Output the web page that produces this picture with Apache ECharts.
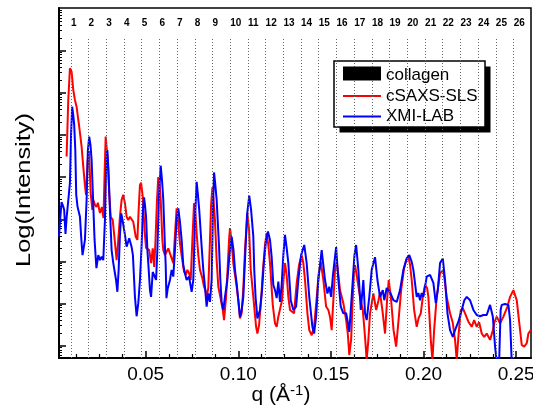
<!DOCTYPE html>
<html>
<head>
<meta charset="utf-8">
<script src="https://cdn.jsdelivr.net/npm/echarts@6/dist/echarts.min.js"></script>
<style>
html,body{margin:0;padding:0;background:#fff;}
#c{width:533px;height:408px;}
</style>
</head>
<body>
<div id="c"></div>
<script>
// ---------- data ----------
const collagenOrders = [1,2,3,4,5,6,7,8,9,10,11,12,13,14,15,16,17,18,19,20,21,22,23,24,25,26];
const collagenQ = [0.0096,0.0191,0.0287,0.0382,0.0478,0.0574,0.0669,0.0765,0.0860,0.0956,0.1052,0.1147,0.1243,0.1338,0.1434,0.1530,0.1625,0.1721,0.1816,0.1912,0.2008,0.2103,0.2199,0.2294,0.2390,0.2486];

const slsQ = [0.0073,0.0082,0.0091,0.0100,0.0109,0.0118,0.0127,0.0134,0.0141,0.0154,
0.0163,0.0172,0.0178,0.0187,0.0194,0.0203,0.0212,0.0217,0.0226,0.0234,
0.0242,0.0253,0.0264,0.0272,0.0278,0.0284,0.0295,0.0303,0.0311,0.0322,
0.0329,0.0338,0.0343,0.0350,0.0361,0.0370,0.0379,0.0388,0.0397,0.0406,
0.0415,0.0424,0.0433,0.0446,0.0455,0.0462,0.0469,0.0475,0.0484,0.0495,
0.0502,0.0510,0.0519,0.0529,0.0538,0.0546,0.0553,0.0561,0.0568,0.0575,
0.0581,0.0590,0.0595,0.0604,0.0613,0.0622,0.0631,0.0640,0.0649,0.0658,
0.0667,0.0674,0.0680,0.0685,0.0696,0.0707,0.0716,0.0725,0.0734,0.0743,
0.0752,0.0761,0.0769,0.0775,0.0784,0.0793,0.0806,0.0815,0.0822,0.0829,
0.0838,0.0847,0.0853,0.0860,0.0866,0.0874,0.0883,0.0892,0.0901,0.0916,
0.0923,0.0934,0.0942,0.0950,0.0955,0.0963,0.0973,0.0982,0.0991,0.1000,
0.1009,0.1018,0.1027,0.1036,0.1049,0.1058,0.1067,0.1081,0.1096,0.1103,
0.1112,0.1123,0.1133,0.1144,0.1153,0.1162,0.1171,0.1186,0.1198,0.1207,
0.1216,0.1225,0.1236,0.1244,0.1252,0.1261,0.1270,0.1279,0.1288,0.1301,
0.1315,0.1328,0.1342,0.1351,0.1360,0.1373,0.1383,0.1396,0.1409,0.1422,
0.1433,0.1445,0.1459,0.1474,0.1486,0.1495,0.1504,0.1513,0.1522,0.1531,
0.1540,0.1549,0.1567,0.1582,0.1591,0.1599,0.1609,0.1617,0.1625,0.1630,
0.1643,0.1657,0.1672,0.1684,0.1693,0.1702,0.1711,0.1729,0.1744,0.1757,
0.1765,0.1779,0.1792,0.1803,0.1812,0.1825,0.1838,0.1852,0.1865,0.1879,
0.1895,0.1906,0.1918,0.1927,0.1936,0.1949,0.1963,0.1973,0.1985,0.1996,
0.2008,0.2019,0.2026,0.2039,0.2048,0.2057,0.2071,0.2089,0.2107,0.2125,
0.2143,0.2157,0.2170,0.2179,0.2188,0.2201,0.2212,0.2224,0.2242,0.2251,
0.2260,0.2273,0.2287,0.2300,0.2314,0.2327,0.2341,0.2359,0.2374,0.2383,
0.2395,0.2413,0.2431,0.2453,0.2467,0.2485,0.2503,0.2517,0.2530,0.2543,
0.2557,0.2566,0.2579];
const slsLogI = [4.49,5.83,6.58,6.50,6.07,5.83,5.67,5.43,5.20,4.72,
4.25,3.81,3.58,4.41,4.62,3.62,3.22,3.46,3.34,3.29,
3.39,3.15,3.29,3.03,4.05,4.96,4.41,3.62,3.06,2.98,
2.67,2.27,2.03,2.39,3.06,3.46,3.58,3.38,3.06,2.98,
3.06,3.10,2.94,2.59,2.51,3.22,3.81,3.87,3.54,2.67,
2.32,2.35,2.27,1.96,2.31,1.87,2.51,3.46,4.00,3.81,
3.46,2.51,2.27,2.15,2.23,2.31,2.19,2.23,1.96,2.63,
3.26,2.98,2.67,2.43,2.08,1.76,1.68,1.80,1.72,1.56,
2.51,3.38,3.10,2.67,2.15,1.80,1.60,1.40,1.32,1.16,
1.37,2.51,3.34,3.76,3.46,2.98,2.03,1.40,1.20,0.85,
0.61,1.16,1.80,2.51,2.79,2.51,1.96,1.68,1.40,1.08,
0.65,0.77,1.36,2.27,3.14,2.75,1.80,1.16,0.45,0.29,
0.49,1.08,1.80,2.39,2.67,2.39,1.96,0.97,0.53,0.45,
0.69,0.69,1.08,1.56,1.96,1.68,1.16,0.85,0.89,0.77,
1.48,1.92,2.15,1.96,1.56,0.77,0.37,0.25,0.45,1.08,
1.68,1.99,1.56,0.93,0.85,0.69,0.37,1.08,1.80,1.99,
1.68,1.32,1.01,0.61,0.29,-0.22,0.14,1.08,1.80,1.92,
1.56,1.16,0.85,0.21,-0.34,0.14,0.77,1.24,0.85,1.08,
1.27,0.80,0.29,1.08,1.56,1.08,0.37,-0.02,0.61,1.32,
1.84,2.03,2.11,1.92,1.56,0.85,0.45,0.65,0.77,1.16,
1.44,1.37,1.16,0.14,-0.34,0.37,1.16,1.72,1.80,1.16,
0.77,0.56,0.14,-0.34,0.21,0.85,0.89,0.77,0.57,0.61,
0.45,0.61,0.45,0.56,0.29,0.21,0.29,0.14,0.37,0.56,
0.69,0.53,0.69,0.93,1.16,1.32,1.08,0.53,0.02,-0.02,
0.06,0.29,0.37];

const labQ = [0.0032,0.0040,0.0046,0.0055,0.0060,0.0067,0.0073,0.0083,0.0091,0.0097,
0.0103,0.0109,0.0114,0.0120,0.0125,0.0132,0.0138,0.0145,0.0152,0.0159,
0.0164,0.0172,0.0181,0.0188,0.0195,0.0202,0.0208,0.0215,0.0224,0.0234,
0.0244,0.0253,0.0262,0.0271,0.0280,0.0286,0.0293,0.0299,0.0307,0.0316,
0.0325,0.0340,0.0347,0.0354,0.0361,0.0368,0.0375,0.0388,0.0397,0.0411,
0.0424,0.0431,0.0442,0.0451,0.0460,0.0469,0.0478,0.0485,0.0491,0.0496,
0.0502,0.0509,0.0514,0.0523,0.0529,0.0538,0.0546,0.0556,0.0563,0.0572,
0.0581,0.0588,0.0595,0.0604,0.0608,0.0612,0.0619,0.0631,0.0640,0.0649,
0.0658,0.0667,0.0676,0.0685,0.0694,0.0703,0.0712,0.0721,0.0734,0.0748,
0.0757,0.0766,0.0775,0.0782,0.0789,0.0802,0.0811,0.0820,0.0829,0.0838,
0.0847,0.0856,0.0863,0.0869,0.0876,0.0883,0.0896,0.0903,0.0910,0.0919,
0.0928,0.0941,0.0952,0.0964,0.0974,0.0982,0.0991,0.1000,0.1009,0.1018,
0.1027,0.1036,0.1047,0.1059,0.1069,0.1081,0.1086,0.1093,0.1103,0.1117,
0.1128,0.1139,0.1150,0.1160,0.1171,0.1180,0.1189,0.1198,0.1207,0.1216,
0.1225,0.1234,0.1243,0.1252,0.1261,0.1270,0.1283,0.1297,0.1312,0.1324,
0.1339,0.1356,0.1369,0.1383,0.1400,0.1409,0.1420,0.1432,0.1450,0.1468,
0.1481,0.1491,0.1501,0.1511,0.1528,0.1540,0.1553,0.1567,0.1582,0.1594,
0.1599,0.1609,0.1618,0.1627,0.1636,0.1648,0.1661,0.1675,0.1684,0.1693,
0.1707,0.1720,0.1738,0.1751,0.1765,0.1780,0.1788,0.1801,0.1819,0.1837,
0.1855,0.1873,0.1891,0.1909,0.1923,0.1936,0.1945,0.1963,0.1972,0.1981,
0.1990,0.1999,0.2017,0.2035,0.2053,0.2066,0.2077,0.2089,0.2104,0.2116,
0.2129,0.2143,0.2158,0.2170,0.2188,0.2206,0.2220,0.2233,0.2251,0.2269,
0.2287,0.2305,0.2323,0.2341,0.2359,0.2374,0.2386,0.2395,0.2408,0.2416,
0.2422,0.2440,0.2458,0.2467,0.2476];
const labLogI = [2.59,3.10,3.41,3.30,3.22,2.65,3.03,3.03,3.86,5.00,
5.67,5.47,5.24,4.64,3.58,3.30,3.34,3.06,2.56,2.15,
2.15,2.51,3.46,4.64,4.96,4.76,4.41,3.58,2.51,1.84,
2.15,2.03,2.11,2.03,2.98,4.17,4.64,4.17,3.22,2.27,
1.96,1.56,1.28,1.80,2.63,3.14,2.98,2.63,2.35,2.55,
2.34,2.15,1.16,0.70,1.01,1.56,2.39,3.22,3.52,3.34,
3.06,2.27,1.96,1.32,1.16,1.75,1.75,1.56,2.27,3.58,
4.27,3.93,3.46,2.34,1.91,1.13,1.36,1.56,1.80,1.64,
2.27,2.98,3.26,2.94,2.51,1.91,1.72,1.56,1.64,1.28,
1.56,2.98,3.89,3.58,3.22,2.35,1.80,1.40,0.93,1.24,
1.04,1.56,3.22,4.11,3.81,3.46,2.35,1.56,1.04,0.85,
1.16,1.56,2.15,2.59,2.27,1.80,1.48,1.08,0.69,0.85,
1.16,2.03,3.10,3.56,3.22,2.59,1.80,1.16,0.65,0.85,
1.32,2.03,2.51,2.71,2.51,2.11,1.44,1.32,1.13,1.52,
1.04,1.44,2.15,2.63,2.32,1.96,1.08,0.85,0.93,1.56,
2.15,2.39,1.96,1.16,0.45,0.29,0.69,1.56,2.27,1.56,
1.24,1.40,1.16,1.68,2.34,1.56,0.93,0.77,0.77,0.49,
0.33,0.97,1.56,2.15,2.39,1.80,0.85,1.56,0.77,0.61,
1.16,1.80,2.10,1.56,1.16,1.32,1.08,1.37,1.27,1.08,
1.04,1.32,1.80,2.07,2.15,1.99,1.80,1.16,1.25,1.08,
1.25,1.16,1.64,1.68,1.49,1.01,1.32,1.96,2.07,1.56,
0.77,0.37,0.21,0.37,0.57,0.85,1.08,1.16,1.08,0.85,
0.73,0.70,0.73,0.73,0.97,0.69,-0.02,-0.39,-0.39,0.85,
0.97,0.99,0.97,0.61,-0.39];

const xTickValues = [0.05, 0.10, 0.15, 0.20, 0.25];
const yTickValues = [0, 1, 2, 3, 4, 5, 6, 7];   // decades of Log(Intensity), unlabelled

// ---------- layout / style ----------
const FONT = '"Liberation Sans", Arial, Helvetica, sans-serif';
const X_MIN = 0.0032, X_MAX = 0.258;
const Y_MIN = -0.29, Y_MAX = 8.01;
const LINE_TOP = 7.30;   // top end of the dotted order lines
const LABEL_Y = 7.66;    // height of the order numbers
const gridBox = {left: 59, right: 2, top: 8, bottom: 50, containLabel: false, outerBoundsMode: 'none'};

const xMinor = [];
for (let i = 1; i <= 20; i++) { if (i % 4 !== 0) xMinor.push(+(i * 0.0125).toFixed(4)); }
const yMinor = [];
for (let k = -1; k <= 8; k++) {
  for (let m = 2; m <= 9; m++) {
    const v = k + Math.log10(m);
    if (v > Y_MIN && v < Y_MAX) yMinor.push(+v.toFixed(4));
  }
}

const zip = (a, b) => a.map((v, i) => [v, b[i]]);
const LINE_ICON = 'path://M0,0H38V2H0Z';

const chart = echarts.init(document.getElementById('c'), null, {renderer: 'canvas'});
chart.setOption({
  animation: false,
  backgroundColor: '#ffffff',
  grid: [
    Object.assign({show: true, borderColor: '#000', borderWidth: 1.5, backgroundColor: 'transparent'}, gridBox),
    Object.assign({show: false}, gridBox)
  ],
  xAxis: [{
    gridIndex: 0, type: 'value', min: X_MIN, max: X_MAX,
    axisLine: {show: true, onZero: false, lineStyle: {color: '#000', width: 2}},
    axisTick: {show: true, inside: true, length: 7, customValues: xTickValues, lineStyle: {color: '#000', width: 1.5}},
    axisLabel: {show: true, customValues: xTickValues, formatter: v => v.toFixed(2), fontSize: 19, color: '#000', fontFamily: FONT, margin: 7},
    splitLine: {show: false},
    name: '{a|q (Å}{s|-1}{a|)}',
    nameLocation: 'middle', nameGap: 25, nameMoveOverlap: false,
    nameTextStyle: {
      padding: [0, 28, 0, 0],
      rich: {
        a: {fontSize: 21, fontFamily: FONT, color: '#000', lineHeight: 24},
        s: {fontSize: 15, fontFamily: FONT, color: '#000', lineHeight: 14, verticalAlign: 'top'}
      }
    }
  }, {
    gridIndex: 1, type: 'value', min: X_MIN, max: X_MAX,
    axisLine: {show: false, onZero: false},
    axisTick: {show: true, inside: true, length: 4, customValues: xMinor, lineStyle: {color: '#000', width: 1.2}},
    axisLabel: {show: false},
    splitLine: {show: false}
  }],
  yAxis: [{
    gridIndex: 0, type: 'value', min: Y_MIN, max: Y_MAX,
    axisLine: {show: true, onZero: false, lineStyle: {color: '#000', width: 2}},
    axisTick: {show: true, inside: true, length: 7, customValues: yTickValues, lineStyle: {color: '#000', width: 1.5}},
    axisLabel: {show: false},
    splitLine: {show: false}
  }, {
    gridIndex: 1, type: 'value', min: Y_MIN, max: Y_MAX,
    axisLine: {show: false, onZero: false},
    axisTick: {show: true, inside: true, length: 3, customValues: yMinor, lineStyle: {color: '#000', width: 1}},
    axisLabel: {show: false},
    splitLine: {show: false}
  }],
  legend: {
    orient: 'vertical', left: 343, top: 67, padding: 0,
    itemWidth: 38, itemHeight: 14, itemGap: 3.5, selectedMode: false,
    textStyle: {fontSize: 17, fontFamily: FONT, color: '#000'},
    data: [
      {name: 'collagen', icon: 'rect', itemStyle: {color: '#000', opacity: 0}},
      {name: 'cSAXS-SLS', icon: LINE_ICON, itemStyle: {color: '#ff0000'}},
      {name: 'XMI-LAB', icon: LINE_ICON, itemStyle: {color: '#0000ff'}}
    ]
  },
  graphic: [
    {type: 'rect', z: 3, silent: true, shape: {x: 339.5, y: 66.5, width: 151, height: 66}, style: {fill: '#000'}},
    {type: 'rect', z: 3, silent: true, shape: {x: 334, y: 61, width: 151, height: 66}, style: {fill: '#fff', stroke: '#000', lineWidth: 1.5}},
    {type: 'rect', z: 10, silent: true, shape: {x: 343, y: 66.5, width: 38, height: 14}, style: {fill: '#000'}},
    {type: 'text', z: 5, silent: true, x: 24, y: 190, rotation: Math.PI / 2, scaleX: 1.27,
      style: {text: 'Log(Intensity)', fontSize: 20, fontFamily: FONT, fill: '#000', align: 'center', verticalAlign: 'middle'}}
  ],
  series: [{
    name: 'collagen', type: 'scatter', xAxisIndex: 0, yAxisIndex: 0,
    symbol: 'rect', symbolSize: 0.1, itemStyle: {color: '#000', opacity: 1},
    data: collagenQ.map((q, i) => ({value: [q, LABEL_Y], name: String(collagenOrders[i])})),
    label: {show: true, position: 'right', distance: 0, formatter: p => p.name,
      fontSize: 10, fontWeight: 'bold', color: '#000', fontFamily: FONT},
    markLine: {
      silent: true, symbol: ['none', 'none'], label: {show: false},
      lineStyle: {type: [1, 2], color: '#666', width: 1},
      data: collagenQ.map(q => [{coord: [q, Y_MIN]}, {coord: [q, LINE_TOP]}])
    },
    z: 1
  }, {
    name: 'cSAXS-SLS', type: 'line', xAxisIndex: 0, yAxisIndex: 0,
    data: zip(slsQ, slsLogI), showSymbol: false, symbol: 'none',
    lineStyle: {color: '#ff0000', width: 2}, itemStyle: {color: '#ff0000'}, z: 2
  }, {
    name: 'XMI-LAB', type: 'line', xAxisIndex: 0, yAxisIndex: 0,
    data: zip(labQ, labLogI), showSymbol: false, symbol: 'none',
    lineStyle: {color: '#0000ff', width: 2}, itemStyle: {color: '#0000ff'}, z: 2
  }]
});
</script>
</body>
</html>
